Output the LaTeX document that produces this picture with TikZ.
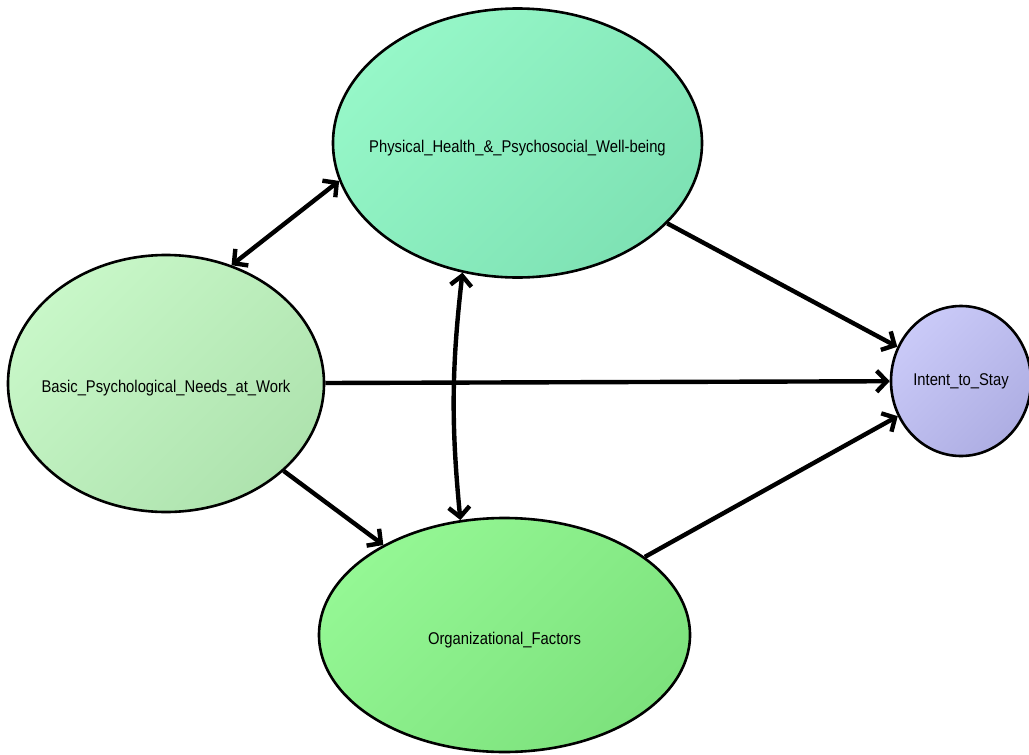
\documentclass[tikz,border=0pt]{standalone}
\usepackage{fontspec}
\setmainfont{Liberation Sans}[FakeStretch=0.87]
\usetikzlibrary{shapes.geometric,arrows.meta}
\definecolor{physA}{HTML}{96F7C8}
\definecolor{physB}{HTML}{7EE2B4}
\definecolor{basA}{HTML}{C8F7C8}
\definecolor{basB}{HTML}{AEE3AE}
\definecolor{orgA}{HTML}{94F794}
\definecolor{orgB}{HTML}{7DE27D}
\definecolor{intA}{HTML}{CACAF8}
\definecolor{intB}{HTML}{AEAEE3}
\begin{document}
\begin{tikzpicture}[x=1pt,y=-1pt,
  lat/.style={ellipse, draw=black, line width=2.6pt, inner sep=0pt, shading angle=45},
  txt/.style={font=\fontsize{17}{19}\selectfont, text=black, yshift=-5pt},
  tipb/.tip={Straight Barb[length=10pt,width=21pt]},
  con/.style={line width=4.4pt, -tipb},
  bicon/.style={line width=4.4pt, tipb-tipb}]
\useasboundingbox (0,0) rectangle (1029,755);
\node[lat, minimum width=369pt, minimum height=269pt, top color=physA, bottom color=physB, shading angle=45,
  label={[txt]center:Physical\_Health\_\&\_Psychosocial\_Well-being}] (phys) at (517.5,143) {};
\node[lat, minimum width=316pt, minimum height=257pt, top color=basA, bottom color=basB, shading angle=45,
  label={[txt]center:Basic\_Psychological\_Needs\_at\_Work}] (bas) at (166,383.5) {};
\node[lat, minimum width=371pt, minimum height=234pt, top color=orgA, bottom color=orgB, shading angle=45,
  label={[txt]center:Organizational\_Factors}] (org) at (504.5,635) {};
\node[lat, minimum width=140pt, minimum height=150pt, top color=intA, bottom color=intB, shading angle=45,
  label={[txt,yshift=5pt]center:Intent\_to\_Stay}] (int) at (961,381) {};
\draw[bicon] (bas.61) -- (phys.192);
\draw[con] (phys) -- (int);
\draw[con] (bas) -- (int);
\draw[con] (bas) -- (org);
\draw[con] (org) -- (int);
\draw[bicon] (phys.247.6) to[bend right=6] (org.111.3);
\end{tikzpicture}
\end{document}
